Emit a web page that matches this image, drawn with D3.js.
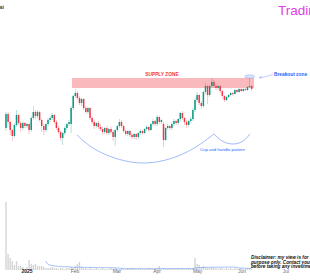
<!DOCTYPE html>
<meta charset="utf-8">
<html>
  <head>
    <title>Cup and handle</title>
    <style>
      html,body{
        margin:0;
        padding:0;
        background:#fff;
        overflow:hidden;
      }
      text{
        font-family: Arial, 'Liberation Sans', sans-serif;
      }
      .tick text{
        font-size:5px;
        fill:#6a6d78;
      }
    </style>
  </head>
  <body>
    <svg xmlns="http://www.w3.org/2000/svg"></svg>
    <script src="https://d3js.org/d3.v7.min.js"></script>
    <script>
      var width = 310, height = 280;

      // daily candles, mid Dec 2024 .. early Jun 2025
      var opens = [102,116,108,100,94,105,115,107,102,107,104,106,100,112,118,114,118,110,104,100,
                   106,110,112,115,108,102,98,92,97,102,106,106,122,134,137,132,127,131,122,118,
                   122,112,108,104,107,103,101,98,102,97,101,98,93,100,104,108,104,99,96,99,
                   95,93,96,93,97,99,97,101,103,100,106,109,106,113,108,106,90,102,104,102,
                   106,109,107,111,117,112,108,105,109,111,120,130,135,127,124,138,144,135,144,148,
                   144,142,144,139,134,130,133,135,137,136,140,138,141,139,141,140,143,144];
      var closes = [116,108,100,94,105,115,107,102,107,104,106,100,112,118,114,118,110,104,100,106,
                    110,112,115,108,102,98,92,97,102,106,108,122,134,137,132,127,131,122,118,122,
                    112,108,104,107,103,101,98,102,97,101,98,93,100,104,108,104,99,96,99,95,
                    93,96,93,97,99,97,101,103,100,106,109,106,113,108,110,90,102,104,102,106,
                    109,107,111,117,112,108,105,109,111,120,130,135,127,124,138,144,135,144,148,144,
                    142,144,139,134,130,133,135,137,136,140,138,141,139,141,140,143,144,141];
      var highs = [118,118,109,101,107,120,116,109,109,108,107,107,114,124,120,120,119,112,106,107,
                   112,114,117,116,110,104,99,98,104,107,110,124,135,141,139,134,132,132,124,123,
                   123,114,110,108,109,106,103,103,104,102,103,100,101,105,111,110,105,101,100,100,
                   97,97,97,98,101,100,102,105,104,107,111,110,115,114,111,108,103,106,105,108,
                   111,110,112,118,119,113,110,110,113,122,132,138,136,129,139,147,145,145,152,150,
                   146,145,145,140,135,134,136,138,138,141,141,142,142,142,142,144,153,145];
      var lows = [99,106,95,89,92,103,105,98,100,102,102,96,98,110,111,112,108,98,95,98,
                  104,108,110,106,100,96,89,85,95,100,104,97,120,132,130,125,124,120,116,116,
                  110,106,101,102,101,99,95,96,95,95,96,89,84,98,102,102,97,94,94,93,
                  91,91,90,91,95,95,96,99,98,99,104,104,104,106,106,83,89,100,100,100,
                  104,105,105,109,110,105,102,103,107,109,118,128,125,121,122,136,126,133,142,142,
                  140,140,137,132,128,129,132,134,134,135,137,137,138,138,139,139,142,139];
      var volumes = [68,16,12,9,5,9,4,4,3,1,3,10,6,5,6,4,4,4,3,2,
                     2,2,3,2,2,1,2,2,1,2,2,3,2,4,6,8,3,2,2,1,
                     2,1,1,2,1,1,2,1,1,1,2,1,2,1,1,2,1,1,2,1,
                     2,1,1,1,2,1,1,1,2,1,1,1,2,4,1,2,1,1,2,1,
                     1,1,2,1,2,1,1,2,1,2,12,6,5,3,4,3,2,2,3,2,
                     2,1,2,2,1,2,1,2,1,2,1,1,2,1,1,2,2,1];

      // axis labels, placed at candle index
      var tickLabels = ['2025','Feb','Mar','Apr','May','Jun','Jul'];
      var tickIdx = [9.8,32.6,52.6,71.7,91,112.1,133.1];

      // supply zone (index range, price range)
      var zoneIdx = [31.4,118.1];
      var zonePrice = [142,152];

      // cup and handle sketch (index, price)
      var cupPts = [[33.8,95],[44.8,78],[64.8,67],[85.2,77],[99,96]];
      var handlePts = [[99,96],[102.9,89],[108.1,86],[112.9,89],[116.2,96]];

      var up = '#089981', down = '#f23645', blue = '#2962ff';

      var svg = d3.select('svg').attr('width', width).attr('height', height);

      var x = d3.scaleLinear().domain([0,117]).range([6,251.7]);
      var y = d3.scaleLinear().domain([30,230]).range([200,0]);
      var yv = d3.scaleLinear().domain([0,70]).range([270,200]);

      var candles = opens.map(function(o,i){
        return {i:i, o:o, c:closes[i], h:highs[i], l:lows[i], v:volumes[i]};
      });

      // zone
      svg.append('rect')
        .attr('x', x(zoneIdx[0]))
        .attr('width', x(zoneIdx[1]) - x(zoneIdx[0]))
        .attr('y', y(zonePrice[1]))
        .attr('height', y(zonePrice[0]) - y(zonePrice[1]))
        .style('fill', '#f9b9bd');

      svg.append('text')
        .attr('x', x(d3.mean(zoneIdx)) - 1)
        .attr('y', y(zonePrice[1]) - 2.5)
        .attr('text-anchor','middle')
        .style('font-size','4.8px').style('font-weight','bold')
        .style('fill', down)
        .text('SUPPLY ZONE');

      // volume bars
      svg.append('g').selectAll('rect').data(candles).enter()
        .append('rect')
          .attr('x', function(d){ return x(d.i) - 0.7; })
          .attr('width', 1.4)
          .attr('y', function(d){ return yv(d.v); })
          .attr('height', function(d){ return yv(0) - yv(d.v); })
          .style('fill', '#d4d4d4');

      // 20 bar volume average
      var ma = [];
      for (var k = 19; k < volumes.length; k++) {
        ma.push([k, d3.mean(volumes.slice(k-19, k+1))]);
      }
      svg.append('path')
        .attr('d', d3.line().x(function(d){return x(d[0]);}).y(function(d){return yv(d[1]);}).curve(d3.curveMonotoneX)(ma))
        .style('fill','none').style('stroke','#7fa3f5').style('stroke-width',0.7);

      // candles
      var cg = svg.append('g').selectAll('g').data(candles).enter().append('g');
      cg.append('line')
        .attr('x1', function(d){return x(d.i);}).attr('x2', function(d){return x(d.i);})
        .attr('y1', function(d){return y(d.h);}).attr('y2', function(d){return y(d.l);})
        .style('stroke', function(d){return d.c >= d.o ? up : down;})
        .style('stroke-width', 0.5)
        .style('opacity', 0.6);
      cg.append('rect')
        .attr('x', function(d){return x(d.i) - 0.75;})
        .attr('width', 1.5)
        .attr('y', function(d){return y(Math.max(d.o,d.c));})
        .attr('height', function(d){return Math.max(0.6, Math.abs(y(d.o) - y(d.c)));})
        .style('fill', function(d){return d.c >= d.o ? up : down;});

      // cup and handle
      var ln = d3.line().x(function(d){return x(d[0]);}).y(function(d){return y(d[1]);});
      svg.append('path').attr('d', ln.curve(d3.curveNatural)(cupPts))
        .style('fill','none').style('stroke','#7a9cf7').style('stroke-width',0.7);
      svg.append('path').attr('d', ln.curve(d3.curveNatural)(handlePts))
        .style('fill','none').style('stroke','#7a9cf7').style('stroke-width',0.7);
      svg.append('text')
        .attr('x', 200).attr('y', 150.5)
        .style('font-size','4.3px').style('fill', blue)
        .text('Cup and handle pattern');

      // breakout marker
      svg.append('ellipse')
        .attr('cx', x(116)).attr('cy', y(153.5))
        .attr('rx', 5).attr('ry', 1.6)
        .style('fill','#dfe6fb').style('stroke','#7a9cf7').style('stroke-width',0.5);
      svg.append('path')
        .attr('d', 'M273,74.5 C268,75.5 265,77.5 259.5,77.5')
        .style('fill','none').style('stroke','#7a9cf7').style('stroke-width',0.5);
      svg.append('path')
        .attr('d', 'M261.5,76.3 L259.3,77.5 L261.5,78.6')
        .style('fill','none').style('stroke','#7a9cf7').style('stroke-width',0.5);
      svg.append('text')
        .attr('x', 274).attr('y', 75.5)
        .style('font-size','4.8px').style('font-weight','bold').style('fill', blue)
        .text('Breakout zone');

      // time axis
      var axis = svg.append('g')
        .attr('transform','translate(0,268)')
        .call(d3.axisBottom(x).tickValues(tickIdx).tickSize(0).tickPadding(1.5)
          .tickFormat(function(d,i){return tickLabels[i];}));
      axis.select('.domain').remove();
      axis.selectAll('.tick text').filter(function(d,i){return i === 0;})
        .style('font-weight','bold').style('fill','#131722');

      // watermark and notes
      svg.append('text')
        .attr('x', 278).attr('y', 15)
        .style('font-size','13.5px').style('fill','#e040e6')
        .text('Trading');
      svg.append('text')
        .attr('x', -1).attr('y', 9)
        .style('font-size','6px').style('font-weight','bold').style('fill','#444')
        .text('ai');

      var note = ['Disclaimer: my view is for educational', 'purpose only. Contact your financial', 'before taking any investment decision'];
      svg.append('g').selectAll('text').data(note).enter().append('text')
        .attr('x', 251).attr('y', function(d,i){ return 259 + i*4.5; })
        .style('font-size','4.7px').style('font-weight','bold').style('font-style','italic')
        .style('fill','#111')
        .text(function(d){return d;});
    </script>
  </body>
</html>
